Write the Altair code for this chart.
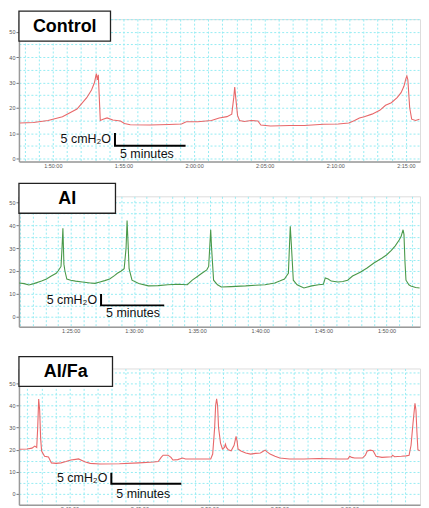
import altair as alt
import pandas as pd

# ---------------- data (time in minutes since 0:00, pressure in cmH2O) -------------
ctrl_t = [107.67, 108.63, 109.66, 110.68, 111.71, 112.40, 112.74, 112.95, 113.08, 113.15,
          113.22, 113.36, 113.56, 113.84, 114.25, 114.79, 115.07, 115.48, 116.85, 118.22,
          119.11, 119.45, 120.27, 121.23, 121.78, 122.33, 122.67, 122.81, 122.88, 122.95,
          123.08, 123.22, 123.56, 124.04, 124.52, 124.73, 125.41, 126.78, 127.81, 129.18,
          130.21, 130.96, 131.37, 131.71, 132.05, 132.60, 133.15, 133.56, 133.97, 134.38,
          134.66, 134.86, 135.00, 135.07, 135.14, 135.27, 135.41, 135.68, 135.96]
ctrl_p = [14.0, 14.2, 15.0, 16.5, 19.5, 24.0, 27.0, 30.0, 33.5, 31.0,
          33.0, 15.0, 15.5, 16.0, 15.2, 14.8, 13.8, 13.3, 13.2, 13.4,
          13.6, 14.5, 14.5, 15.0, 16.0, 16.5, 17.5, 24.0, 28.2, 24.0,
          17.0, 15.0, 14.6, 15.0, 14.8, 13.2, 12.8, 13.0, 13.0, 13.5,
          13.6, 14.0, 15.0, 16.0, 16.5, 17.5, 19.0, 21.0, 22.0, 24.0,
          26.0, 28.5, 31.5, 32.5, 31.0, 20.0, 15.5, 15.0, 15.5]

ai_t = [80.92, 81.31, 81.69, 82.08, 82.69, 83.08, 83.46, 83.85, 84.00, 84.23,
        84.31, 84.38, 84.46, 84.54, 84.69, 85.00, 85.38, 85.92, 86.54, 86.92,
        87.31, 87.69, 88.08, 88.46, 88.69, 89.00, 89.23, 89.38, 89.46, 89.54,
        89.62, 89.85, 90.38, 91.15, 91.92, 92.69, 93.46, 94.23, 94.62, 95.00,
        95.38, 95.77, 95.92, 96.00, 96.08, 96.15, 96.31, 96.62, 96.92, 97.69,
        98.85, 99.62, 100.38, 101.15, 101.54, 101.92, 102.08, 102.23, 102.31, 102.38,
        102.46, 102.62, 102.92, 103.46, 104.08, 104.62, 105.00, 105.15, 105.38, 105.62,
        106.15, 106.54, 106.92, 107.31, 107.92, 108.46, 109.00, 109.62, 110.00, 110.38,
        110.69, 111.00, 111.15, 111.31, 111.38, 111.46, 111.54, 111.77, 111.92, 112.31,
        112.62]
ai_p = [14.8, 14.5, 13.9, 14.5, 15.6, 16.5, 17.8, 19.0, 20.0, 22.0,
        30.0, 38.7, 23.0, 20.0, 16.5, 16.0, 15.6, 15.2, 14.8, 14.6,
        15.2, 15.8, 16.5, 18.0, 19.0, 20.0, 21.0, 30.0, 42.0, 32.0,
        21.0, 16.0, 14.5, 13.5, 13.6, 14.0, 14.2, 14.0, 16.0, 17.5,
        19.0, 20.5, 22.0, 30.0, 38.0, 30.0, 16.0, 14.0, 13.0, 13.2,
        13.5, 13.8, 14.0, 14.8, 15.6, 16.5, 17.8, 19.0, 30.0, 39.5,
        32.0, 16.0, 14.0, 12.6, 13.5, 14.0, 14.2, 17.0, 16.5, 15.6,
        15.2, 15.4, 16.0, 17.8, 19.5, 21.3, 23.5, 25.6, 27.0, 29.0,
        31.0, 33.5, 35.0, 38.0, 36.0, 24.0, 16.0, 14.0, 13.5, 12.8,
        12.6]

aifa_t = [156.42, 156.98, 157.33, 157.53, 157.67, 157.74, 157.81, 157.88, 157.95, 158.02,
          158.23, 158.51, 158.72, 159.06, 159.41, 159.76, 160.10, 160.45, 160.66, 160.94,
          161.15, 161.49, 162.19, 163.58, 164.97, 166.01, 166.35, 166.56, 166.70, 167.05,
          167.26, 167.40, 167.74, 168.09, 168.30, 169.13, 170.10, 170.24, 170.38, 170.45,
          170.52, 170.59, 170.66, 170.80, 170.94, 171.08, 171.15, 171.22, 171.35, 171.56,
          171.77, 171.91, 171.98, 172.05, 172.26, 172.60, 172.95, 173.30, 173.65, 173.85,
          173.99, 174.13, 174.34, 174.69, 175.03, 175.73, 176.77, 177.81, 179.20, 179.90,
          180.03, 180.17, 180.38, 180.94, 181.15, 181.28, 181.49, 181.70, 181.91, 182.33,
          183.02, 183.09, 183.23, 183.72, 184.06, 184.27, 184.41, 184.55, 184.69, 184.76,
          184.83, 184.90, 185.03]
aifa_p = [20.2, 20.3, 20.7, 21.6, 21.0, 30.0, 43.0, 38.0, 25.0, 19.4,
          17.0, 16.7, 14.0, 13.8, 14.0, 14.6, 15.3, 15.6, 15.8, 15.0,
          14.4, 13.8, 13.5, 13.6, 14.0, 14.4, 14.6, 16.5, 17.5, 17.5,
          16.5, 15.3, 15.5, 16.2, 15.8, 15.8, 15.8, 18.0, 30.0, 40.0,
          43.0, 40.0, 30.0, 23.0, 20.3, 21.0, 22.5, 21.0, 20.0, 19.5,
          22.0, 26.0, 24.0, 20.3, 19.4, 18.5, 18.0, 18.3, 18.5, 19.3,
          19.8, 19.0, 18.0, 17.0, 16.2, 15.8, 15.8, 16.0, 15.8, 15.8,
          17.0, 16.5, 16.2, 16.2, 17.5, 19.4, 19.8, 19.5, 17.0, 16.5,
          16.8, 17.5, 16.8, 17.0, 17.2, 17.5, 22.0, 32.0, 41.0, 38.0,
          28.0, 20.0, 19.5]

panel_names = ["Control", "AI", "AI/Fa"]
trace_colors = ["#e8686a", "#4a994a", "#e8686a"]
x_domains = [[107.6, 136.0], [80.9, 112.65], [156.4, 185.05]]
y_domains = [[-1.2, 55.0], [-4.3, 52.6], [-5.0, 56.8]]
bar_x = [[114.4, 119.4], [87.4, 92.4], [163.0, 168.0]]   # 5 minutes
bar_y = [[5.0, 10.0], [5.0, 10.0], [4.5, 9.5]]          # 5 cmH2O
traces = [(ctrl_t, ctrl_p), (ai_t, ai_p), (aifa_t, aifa_p)]

# ---------------- layout / style -------------
heights = [143, 131, 137]
WIDTH = 403
box_top = [-8, -13, -12]
box_w = [92, 97, 94]
spacer_top = [None, None, -21]
min_dy = [8, 8, 10]
GRID = "#95ecf3"
FONT = "Liberation Sans"

XLAB = ("datum.value % 5 == 0 ? (floor(datum.value / 60) + ':' + "
        "(datum.value % 60 < 10 ? '0' : '') + (datum.value % 60) + ':00') : ''")


def panel(i):
    t, p = traces[i]
    df = pd.DataFrame({"t": t, "p": p})
    xd, yd = x_domains[i], y_domains[i]
    xs = alt.Scale(domain=xd, nice=False, zero=False)
    ys = alt.Scale(domain=yd, nice=False, zero=False)
    xvals = [m for m in range(int(xd[0]) + 1, int(xd[1] - 0.5) + 1)]
    yvals = [v for v in range(0, 60, 5) if yd[0] <= v <= yd[1]]
    x_axis = alt.Axis(values=xvals, labelExpr=XLAB, ticks=False, grid=True,
                      gridColor=GRID, gridDash=[2, 2], gridWidth=1,
                      domainColor="#9a9a9a", domainWidth=1.5, labelFontSize=5.5,
                      labelColor="#555", labelFont=FONT, labelPadding=2, title=None,
                      labelOverlap=False, labelFlush=False)
    y_axis = alt.Axis(values=yvals,
                      labelExpr="datum.value % 10 == 0 ? datum.label : ''",
                      tickOpacity={"condition": {"test": "datum.value % 10 == 0", "value": 1},
                                   "value": 0},
                      tickSize=3, tickColor="#777", grid=True, gridColor=GRID,
                      gridDash=[2, 2], gridWidth=1, domainColor="#9a9a9a",
                      domainWidth=1.5, labelFontSize=5.5, labelColor="#555",
                      labelFont=FONT, labelPadding=1, title=None, labelOverlap=False,
                      labelFlush=False)

    X = alt.X("t:Q", scale=xs, axis=x_axis)
    Y = alt.Y("p:Q", scale=ys, axis=y_axis)

    line = alt.Chart(df).mark_line(color=trace_colors[i], strokeWidth=1.1, clip=True).encode(
        x=X, y=Y)

    bx, by = bar_x[i], bar_y[i]
    bar_df = pd.DataFrame({"t": [bx[0], bx[0], bx[1]], "p": [by[1], by[0], by[0]], "o": [0, 1, 2]})
    bar = alt.Chart(bar_df).mark_line(color="black", strokeWidth=2).encode(
        x=X, y=Y, order="o:Q")

    lab_df = pd.DataFrame({"t": [bx[0], bx[0]], "p": [(by[0] + by[1]) / 2, by[0]],
                           "s": ["5 cmH\u2082O", "5 minutes"], "k": ["v", "h"]})
    vlab = alt.Chart(lab_df).transform_filter("datum.k == 'v'").mark_text(
        align="right", baseline="middle", dx=-4, fontSize=12.5, font=FONT, color="#111").encode(
        x=X, y=Y, text="s:N")
    hlab = alt.Chart(lab_df).transform_filter("datum.k == 'h'").mark_text(
        align="left", baseline="middle", dx=5, dy=min_dy[i], fontSize=12.5, font=FONT,
        color="#111").encode(
        x=X, y=Y, text="s:N")

    name_df = pd.DataFrame({"name": [panel_names[i]]})
    box = alt.Chart(name_df).mark_rect(fill="white", stroke="#222", strokeWidth=1.3).encode(
        x=alt.value(0), x2=alt.value(box_w[i]),
        y=alt.value(box_top[i]), y2=alt.value(box_top[i] + 30))
    title = alt.Chart(name_df).mark_text(fontSize=18, fontWeight="bold", font=FONT,
                                         color="black", baseline="middle", align="center").encode(
        x=alt.value(box_w[i] / 2), y=alt.value(box_top[i] + 15.5), text="name:N")

    layers = [line, bar, vlab, hlab, box, title]
    if spacer_top[i] is not None:
        spacer = alt.Chart(name_df).mark_rect(opacity=0).encode(
            x=alt.value(0), x2=alt.value(1),
            y=alt.value(spacer_top[i]), y2=alt.value(spacer_top[i] + 1))
        layers.append(spacer)
    return alt.layer(*layers).properties(width=WIDTH, height=heights[i])


chart = alt.vconcat(panel(0), panel(1), panel(2), spacing=12).properties(
    padding={"left": 0, "top": 0, "right": 0, "bottom": 0}
).configure_view(stroke=None).configure(background="white")

chart.save("out.html", embed_options={"renderer": "svg", "actions": False})
